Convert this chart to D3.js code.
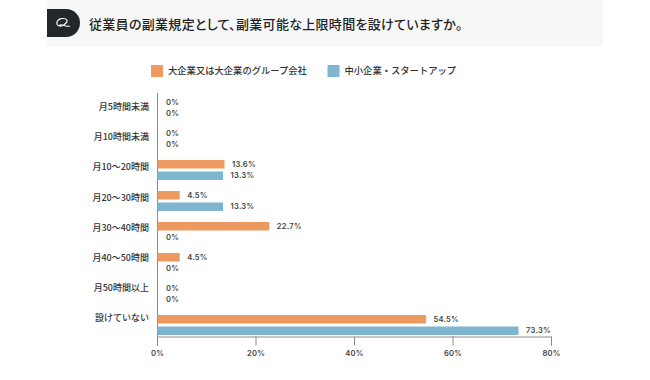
<!DOCTYPE html>
<html>
<head>
<meta charset="utf-8">
<script src="https://cdn.jsdelivr.net/npm/d3@7"></script>
<style>
  html, body { margin: 0; padding: 0; background: #fff; }
  svg { display: block; }
  text { font-family: "Noto Sans CJK JP", "Noto Sans", sans-serif; fill: #333; }
  .domain, .tick line { stroke: #8a8a8a; }
  .num { font-family: Inter, "Noto Sans", sans-serif; font-size: 7.6px; font-weight: 600; letter-spacing: 0.25px; fill: #444; }
</style>
</head>
<body>
<svg></svg>
<script>
const categories = ['月5時間未満', '月10時間未満', '月10～20時間', '月20～30時間', '月30～40時間', '月40～50時間', '月50時間以上', '設けていない'];
const seriesNames = ['大企業又は大企業のグループ会社', '中小企業・スタートアップ'];
const largeValues = [0, 0, 13.6, 4.5, 22.7, 4.5, 0, 54.5];
const smallValues = [0, 0, 13.3, 13.3, 0, 0, 0, 73.3];
const colors = ['#ec9a5f', '#7db6ce'];
const xTicks = [0, 20, 40, 60, 80];
const titleText = '従業員の副業規定として、副業可能な上限時間を設けていますか。';

const svg = d3.select('svg').attr('width', 650).attr('height', 380);

// Title band and badge
svg.append('rect').attr('x', 47).attr('y', 0).attr('width', 556).attr('height', 46).attr('fill', '#f7f7f7');
svg.append('path')
    .attr('d', 'M47,9 H66 A14,14 0 0 1 66,37 H47 Z')
    .attr('fill', '#23272a');
svg.append('path')
    .attr('d', 'M59,26 C55,24 57,19 62,18.5 C67,18 69,21 65,24 C62,26.5 58,27 60,25 C62,23.5 65,27.5 70,26')
    .attr('fill', 'none').attr('stroke', '#fff').attr('stroke-width', 1.1);
svg.append('text')
    .attr('x', 89).attr('y', 28.5)
    .attr('font-size', 13)
    .attr('font-weight', 500)
    .style('font-feature-settings', '"palt"')
    .style('letter-spacing', '0.3px')
    .style('fill', '#222')
    .text(titleText);

// Legend
const legendX = [151, 327.5];
seriesNames.forEach((name, i) => {
  svg.append('rect').attr('x', legendX[i]).attr('y', 65).attr('width', 12).attr('height', 12).attr('fill', colors[i]);
  svg.append('text')
      .attr('x', legendX[i] + 17).attr('y', 74)
      .attr('font-size', 9.3)
      .attr('font-weight', 500)
      .text(name);
});

// Scales: the row labels sit on a slightly tighter pitch than the bars
const x = d3.scaleLinear().domain([0, 80]).range([157, 551]);
const y = d3.scaleBand().domain(categories).range([92.5, 340.5]);
const yLabels = d3.scaleBand().domain(categories).range([92.3, 333.1]);
const barHeight = 8.5;

// Axes
const xAxisG = svg.append('g').attr('transform', 'translate(0, 336.5)');
xAxisG.call(d3.axisBottom(x).tickValues(xTicks).tickSize(9).tickSizeOuter(9).tickPadding(4).tickFormat(d => d + '%'));
xAxisG.selectAll('text').attr('class', 'num').attr('dy', '0.8em');

const yAxisG = svg.append('g').attr('transform', 'translate(157, 0)');
yAxisG.call(d3.axisLeft(yLabels).tickSize(0).tickPadding(8));
yAxisG.select('.domain').attr('d', 'M0.5,93V336.5');
yAxisG.selectAll('text').attr('font-size', 9).attr('font-weight', 500).attr('fill', '#333');

// Bars and labels
[largeValues, smallValues].forEach((values, s) => {
  const offset = s === 0 ? -10 : 1.5;
  const row = svg.append('g');
  row.selectAll('rect').data(values).join('rect')
      .attr('x', x(0) + 0.5)
      .attr('y', (d, i) => y(categories[i]) + y.bandwidth() / 2 + offset)
      .attr('width', d => x(d) - x(0))
      .attr('height', barHeight)
      .attr('fill', colors[s]);
  row.selectAll('text').data(values).join('text')
      .attr('class', 'num')
      .attr('x', d => x(d) + (d === 0 ? 9 : 8))
      .attr('y', (d, i) => y(categories[i]) + y.bandwidth() / 2 + offset + barHeight / 2 + 2.5)
      .text(d => d + '%');
});
</script>
</body>
</html>
